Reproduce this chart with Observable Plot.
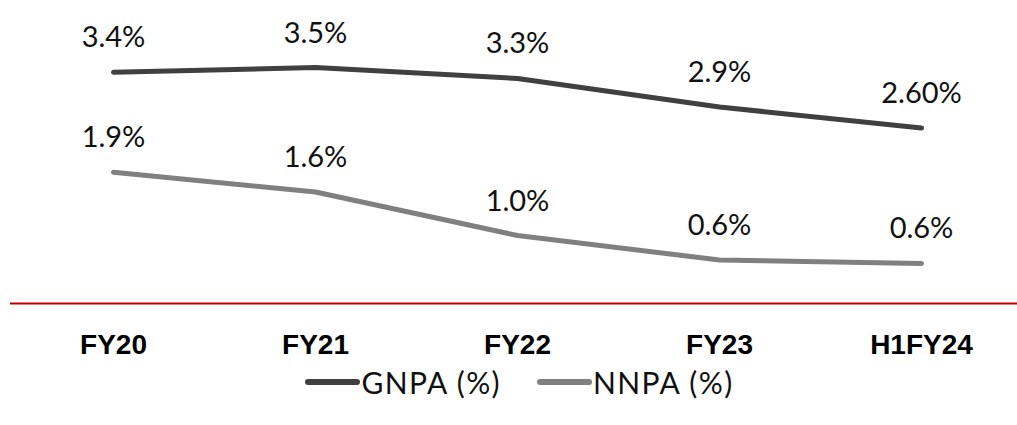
<!DOCTYPE html>
<html>
<head>
<meta charset="utf-8">
<script src="https://cdn.jsdelivr.net/npm/d3@7"></script>
<script src="https://cdn.jsdelivr.net/npm/@observablehq/plot@0.6"></script>
<style>
  html, body { margin: 0; padding: 0; background: #fff; }
  #chart svg { display: block; }
  .legend { display: flex; justify-content: center; align-items: center; height: 44px; margin-left: 22px;
    font-family: Lato, sans-serif; font-size: 30px; letter-spacing: 1.4px; color: #111; }
  .legend .sw { display: inline-block; width: 55px; height: 6px; border-radius: 3px; margin-right: 1px; }
  .legend .item { display: flex; align-items: center; margin: 0 18px; }
</style>
</head>
<body>
<div id="chart"></div>
<script>
const categories = ["FY20", "FY21", "FY22", "FY23", "H1FY24"];
const gnpaValues = [3.4, 3.47, 3.31, 2.89, 2.58];
const nnpaValues = [1.93, 1.64, 1.0, 0.64, 0.59];
const gnpaLabels = ["3.4%", "3.5%", "3.3%", "2.9%", "2.60%"];
const nnpaLabels = ["1.9%", "1.6%", "1.0%", "0.6%", "0.6%"];
const seriesNames = ["GNPA (%)", "NNPA (%)"];
const seriesColors = ["#404040", "#808080"];

const rows = [];
categories.forEach((c, i) => {
  rows.push({cat: c, value: gnpaValues[i], label: gnpaLabels[i], series: seriesNames[0]});
  rows.push({cat: c, value: nnpaValues[i], label: nnpaLabels[i], series: seriesNames[1]});
});

const W = 1017, H = 360;
const chart = Plot.plot({
  width: W,
  height: H,
  marginLeft: 10,
  marginRight: 0,
  marginTop: 0,
  marginBottom: H - 303,
  style: {fontFamily: "Lato, sans-serif", background: "#fff"},
  x: {type: "point", domain: categories, range: [112, 922], padding: 0},
  y: {domain: [0, 4], range: [303, 303 - 4 * 68], axis: null},
  color: {domain: seriesNames, range: seriesColors},
  marks: [
    Plot.ruleY([0], {stroke: "#c00000", strokeWidth: 2}),
    Plot.line(rows, {x: "cat", y: "value", z: "series", stroke: "series", strokeWidth: 5, strokeLinecap: "round", strokeLinejoin: "round"}),
    Plot.text(rows, {x: "cat", y: "value", text: "label", lineAnchor: "bottom", dy: -25, fontSize: 29, fill: "#111"}),
    Plot.axisX({tickSize: 0, tickPadding: 31, fontSize: 28, fontWeight: "bold", fontFamily: "Liberation Sans, Arial, sans-serif", fill: "#000", label: null})
  ]
});
document.getElementById("chart").appendChild(chart);

const legend = document.createElement("div");
legend.className = "legend";
seriesNames.forEach((name, i) => {
  const item = document.createElement("span");
  item.className = "item";
  const sw = document.createElement("span");
  sw.className = "sw";
  sw.style.background = seriesColors[i];
  item.appendChild(sw);
  item.appendChild(document.createTextNode(name));
  legend.appendChild(item);
});
document.body.appendChild(legend);
</script>
</body>
</html>
